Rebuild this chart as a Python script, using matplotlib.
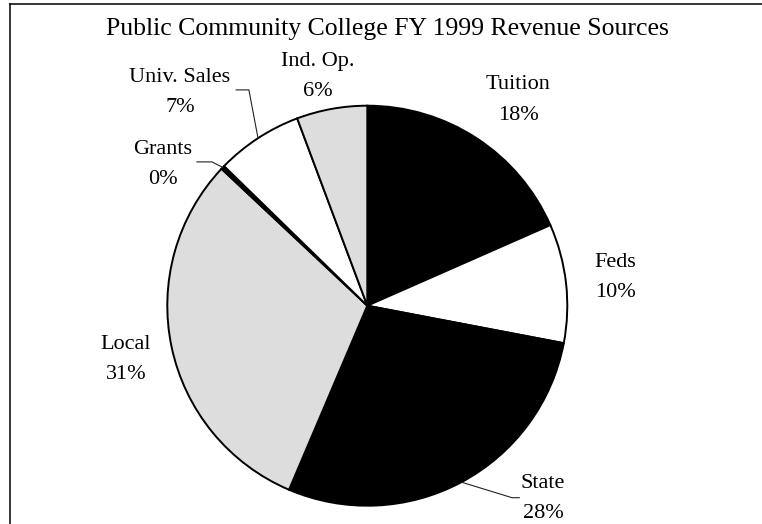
import numpy as np
import matplotlib
matplotlib.use('Agg')
import matplotlib.pyplot as plt
from matplotlib.lines import Line2D

plt.rcParams['font.family'] = ['Liberation Serif', 'DejaVu Serif']

sources = ['Tuition', 'Feds', 'State', 'Local', 'Grants', 'Univ. Sales', 'Ind. Op.']
revenue = [18.4, 9.6, 28.4, 30.6, 0.3, 7.0, 5.7]
fills = ['black', 'white', 'black', '#dddddd', 'black', 'white', '#dddddd']

# where each label sits, in pie units (radius = 1)
label_xy = {
    'Tuition': (0.754, 1.029),
    'Feds': (1.239, 0.139),
    'State': (0.879, -0.962),
    'Local': (-1.207, -0.269),
    'Grants': (-1.022, 0.706),
    'Univ. Sales': (-0.937, 1.064),
    'Ind. Op.': (-0.247, 1.147),
}
# elbow and end of the leader lines
leaders = {
    'State': [(0.7235, -0.96), (0.76, -0.96)],
    'Grants': [(-0.777, 0.719), (-0.852, 0.719)],
    'Univ. Sales': [(-0.592, 1.079), (-0.656, 1.079)],
}

W, H = 762, 524
fig = plt.figure(figsize=(W / 100, H / 100), dpi=100)

# pie centred at (367, 306) px from the top left, radius 200 px
cx, cy, r = 367.3, 305.7, 200
ax = fig.add_axes([(cx - r) / W, (H - cy - r) / H, 2 * r / W, 2 * r / H])
wedges, _ = ax.pie(revenue, colors=fills, startangle=90, counterclock=False,
                   wedgeprops=dict(edgecolor='black', linewidth=1.4))
ax.set_xlim(-1, 1)
ax.set_ylim(-1, 1)
ax.set_aspect('auto')
ax.axis('off')

total = sum(revenue)
for name, val, w in zip(sources, revenue, wedges):
    x, y = label_xy[name]
    ax.text(x, y, f'{name}\n{round(val / total * 100)}%', ha='center',
            va='center', fontsize=16, linespacing=1.8)
    if name in leaders:
        mid = np.deg2rad((w.theta1 + w.theta2) / 2)
        pts = [(np.cos(mid), np.sin(mid))] + leaders[name]
        xs, ys = zip(*pts)
        ax.plot(xs, ys, color='#222222', lw=0.8, clip_on=False)

fig.text(387 / W, (H - 35) / H, 'Public Community College FY 1999 Revenue Sources',
         ha='center', va='baseline', fontsize=18.5)

# chart frame (only the top and left edges fall inside the image)
fig.add_artist(Line2D([9.5 / W, 9.5 / W], [0, (H - 4) / H], color='black', lw=1.1))
fig.add_artist(Line2D([9.5 / W, 1], [(H - 4) / H, (H - 4) / H], color='black', lw=1.1))

fig.savefig('out.png', dpi=100)
